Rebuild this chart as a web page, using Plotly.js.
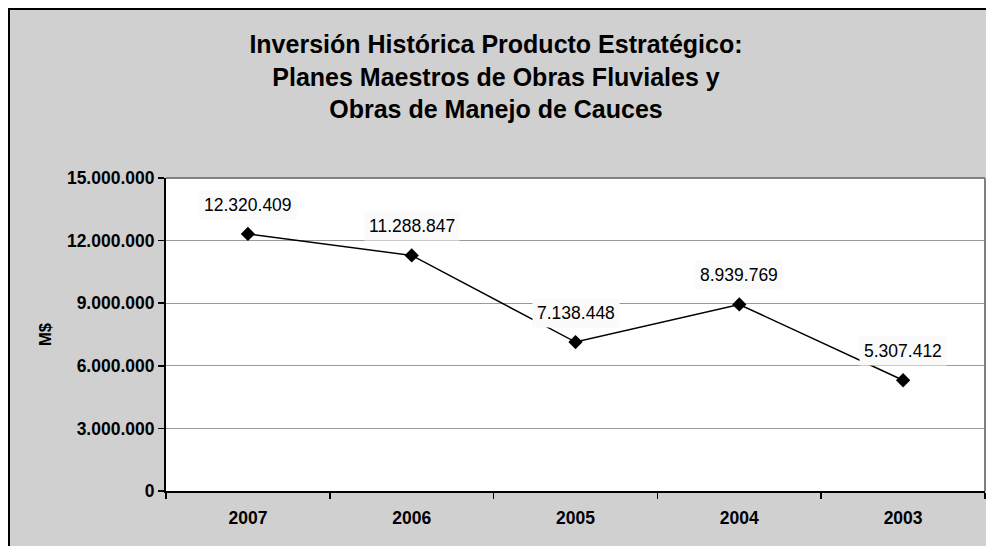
<!DOCTYPE html>
<html>
<head>
<meta charset="utf-8">
<script src="https://cdn.plot.ly/plotly-3.0.1.min.js"></script>
<style>
  html, body { margin: 0; padding: 0; background: #ffffff; }
  #frame { position: absolute; left: 8px; top: 8px; width: 1000px; height: 560px;
           background: #D0D0D0; border: 2px solid #000; box-sizing: border-box; }
  #chart { position: absolute; left: 0; top: 0; width: 986px; height: 546px; }
</style>
</head>
<body>
<div id="frame"></div>
<div id="chart"></div>
<script>
const years = ['2007', '2006', '2005', '2004', '2003'];
const investment = [12320409, 11288847, 7138448, 8939769, 5307412];
const titleLines = ['Inversión Histórica Producto Estratégico:', 'Planes Maestros de Obras Fluviales y', 'Obras de Manejo de Cauces'];
const yTitle = 'M$';

function fmt(v) {
  return String(Math.round(v)).replace(/\B(?=(\d{3})+(?!\d))/g, '.');
}

const font = 'Liberation Sans, Arial, sans-serif';

const trace = {
  x: years,
  y: investment,
  type: 'scatter',
  mode: 'lines+markers',
  line: { color: '#000000', width: 1.5 },
  marker: { symbol: 'diamond', size: 11, color: '#000000' },
  hoverinfo: 'none'
};

// category axis: annotation x given as category index
const annotations = years.map((yr, i) => ({
  x: i, y: investment[i], xref: 'x', yref: 'y',
  text: fmt(investment[i]), showarrow: false, yshift: 29,
  font: { family: font, size: 17.5, color: '#000000' },
  bgcolor: '#FAFAFA', borderpad: 4
}));

annotations.push({
  xref: 'paper', yref: 'paper', x: (45 - 166) / 819, y: (491 - 335) / 313,
  text: '<b>' + yTitle + '</b>', showarrow: false, textangle: -90,
  xanchor: 'center', yanchor: 'middle',
  font: { family: font, size: 16.5, color: '#000000' }
});

const layout = {
  width: 986, height: 546,
  margin: { l: 166, r: 1, t: 178, b: 55 },
  paper_bgcolor: 'rgba(0,0,0,0)',
  plot_bgcolor: '#FFFFFF',
  separators: ',.',
  showlegend: false,
  title: {
    text: '<b>' + titleLines.join('<br>') + '</b>',
    x: 496 / 986, xanchor: 'center', xref: 'container',
    y: 1 - 53 / 546, yanchor: 'top', yref: 'container',
    font: { family: font, size: 25, color: '#000000' }
  },
  xaxis: {
    type: 'category', range: [-0.5, 4.5],
    showline: true, linecolor: '#000000', linewidth: 2,
    ticks: 'outside', tickson: 'boundaries', ticklen: 6, tickcolor: '#000000', tickwidth: 1.5,
    ticklabelstandoff: 10,
    showgrid: false, zeroline: false,
    tickfont: { family: font, size: 17.5, color: '#000000', weight: 'bold' }
  },
  yaxis: {
    range: [0, 15000000], dtick: 3000000, tick0: 0, tickformat: ',d',
    showline: true, linecolor: '#000000', linewidth: 2,
    ticks: 'outside', ticklen: 6, tickcolor: '#000000', tickwidth: 1.5,
    showgrid: true, gridcolor: '#9A9A9A', gridwidth: 1, zeroline: false,
    tickfont: { family: font, size: 17.5, color: '#000000', weight: 'bold' }
  },
  shapes: [
    { type: 'line', xref: 'paper', yref: 'paper', x0: 0, x1: 1, y0: 1, y1: 1,
      line: { color: '#808080', width: 2 } },
    { type: 'line', xref: 'paper', yref: 'paper', x0: 1, x1: 1, y0: 0, y1: 1,
      line: { color: '#808080', width: 2 } }
  ],
  annotations: annotations
};

Plotly.newPlot('chart', [trace], layout, { displayModeBar: false, staticPlot: true });
</script>
</body>
</html>
